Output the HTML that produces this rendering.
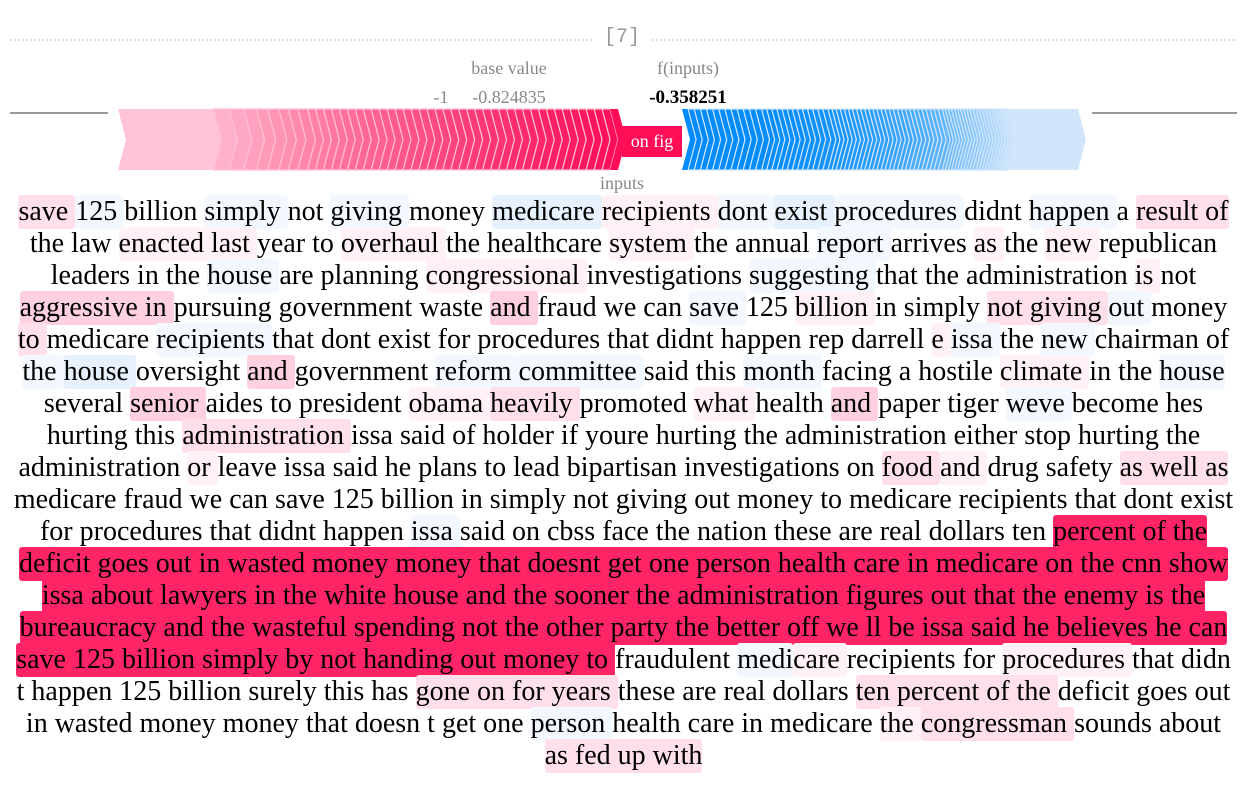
<!DOCTYPE html>
<html><head><meta charset="utf-8">
<style>
body{margin:0;width:1247px;height:810px;background:#fff;overflow:hidden;font-family:"Liberation Serif","Times New Roman","DejaVu Serif",serif;}
#top{position:absolute;left:0;top:0;width:1247px;height:200px;}
#top text{font-family:"Liberation Serif","Times New Roman","DejaVu Serif",serif;}
#txt{position:absolute;left:0;top:196px;width:1247px;text-align:center;font-size:25px;color:#000;}
.ln{height:32px;line-height:32px;white-space:nowrap;}
.ln span{border-radius:3px;padding:1px 0 2px 0;}
.a{background:#fff1f5}.b{background:#ffe0ea}.c{background:#ffd0de}.s{background:#ff2466}
.x{background:#f3f8fe}.y{background:#e6f1fd}
</style></head><body>
<svg id="top" width="1247" height="200">
 <line x1="10" y1="40" x2="592" y2="40" stroke="#bbb" stroke-dasharray="2,2"/>
 <line x1="652" y1="40" x2="1237" y2="40" stroke="#bbb" stroke-dasharray="2,2"/>
 <text x="622" y="42" font-size="20" fill="#999" text-anchor="middle" style="font-family:'Liberation Mono',monospace">[7]</text>
 <text x="509" y="74" font-size="18" fill="#888" text-anchor="middle">base value</text>
 <text x="688" y="74" font-size="18" fill="#888" text-anchor="middle">f(inputs)</text>
 <text x="441" y="103" font-size="18" fill="#888" text-anchor="middle">-1</text>
 <text x="509" y="103" font-size="18" fill="#888" text-anchor="middle">-0.824835</text>
 <text x="688" y="103" font-size="19" fill="#000" font-weight="bold" text-anchor="middle">-0.358251</text>
 <line x1="10" y1="113" x2="108" y2="113" stroke="#999" stroke-width="2"/>
 <line x1="1092" y1="113" x2="1237" y2="113" stroke="#999" stroke-width="2"/>
 <g id="red"></g>
 <g id="blue"></g>
 <rect x="622" y="126" width="60" height="31" fill="#ff0d57"/>
 <text x="652" y="147" font-size="18" fill="#fff" text-anchor="middle">on fig</text>
 <text x="622" y="189" font-size="18" fill="#888" text-anchor="middle">inputs</text>
</svg>
<script>
// positive contributions, left (smallest) to right (largest, nearest output)
const redVals=[60,10,9,8,7,7,6,6,6,5,5,5,5,5,5,5,5,5,5,5,5,5,5,5,5,5,5,5,5,5,5,5,5,5,5,5,5,5,5,5,5,5,5,5,5,5,5,5];
// negative contributions, from output (largest) outward to the right
const blueVals=[6,6,6,6,6,6,6,6,6,6,6,6,6,5,5,5,5,5,5,5,5,5,5,5,5,5,4,4,4,4,4,4,4,4,4,4,4,4,4,4,4,4,4,4,4,4,4,4,4,4,4,4,4,4,3,3,3,3,3,3,3,3,3,3,3,3,3,3,3,3,3,3,3,3,3,70];
const NS='http://www.w3.org/2000/svg';
function drawSide(g,vals,x0,x1,dir,c0,c1,gamma,stroke){
  const tot=vals.reduce((a,b)=>a+b,0);const W=x1-x0;let x=x0;
  const top=109,bot=170,mid=139.5,k=8*dir;
  vals.forEach((v,i)=>{
    const w=v/tot*W;const xa=x,xb=x+w;x=xb;
    const t=Math.pow(i/(vals.length-1),gamma);
    const col=c0.map((c,j)=>Math.round(c+(c1[j]-c)*t));
    const p=document.createElementNS(NS,'polygon');
    p.setAttribute('points',`${xa},${top} ${xb},${top} ${xb+k},${mid} ${xb},${bot} ${xa},${bot} ${xa+k},${mid}`);
    p.setAttribute('fill',`rgb(${col})`);
    p.setAttribute('stroke',stroke);p.setAttribute('stroke-width',(i==0||i==vals.length-1)?0:1.2);
    
    
    g.appendChild(p);
  });
}
drawSide(document.getElementById('red'),redVals,118,618,1,[255,196,214],[255,13,87],0.6,'#ffc0d2');
drawSide(document.getElementById('blue'),blueVals,682,1078,1,[0,139,251],[209,230,250],2.2,'#cfe6fb');
</script>
<div id="txt">
<div class="ln" id="l1"><span class="b">save </span><span class="x">125 </span>billion <span class="x">simply </span>not <span class="x">giving </span>money <span class="y">medicare </span><span class="a">recipients </span><span class="x">dont </span><span class="y">exist </span><span class="x">procedures </span>didnt <span class="x">happen </span>a <span class="b">result of</span></div>
<div class="ln">the law <span class="a">enacted </span><span class="a">last </span>year to <span class="a">overhaul </span>the healthcare <span class="a">system </span>the annual <span class="x">report </span>arrives <span class="a">as </span>the <span class="a">new </span>republican</div>
<div class="ln">leaders in the <span class="x">house </span>are planning <span class="a">congressional </span>investigations <span class="x">suggesting </span>that the administration <span class="a">is </span>not</div>
<div class="ln"><span class="c">aggressive in </span>pursuing government waste <span class="c">and </span>fraud we can <span class="x">save </span>125 <span class="a">billion </span>in simply <span class="b">not giving </span><span class="x">out </span>money</div>
<div class="ln"><span class="b">to </span>medicare <span class="x">recipients </span>that dont exist for procedures that didnt happen rep darrell <span class="a">e </span><span class="x">issa </span>the <span class="x">new </span>chairman of</div>
<div class="ln"><span class="x">the </span><span class="y">house </span>oversight <span class="c">and </span>government <span class="x">reform </span><span class="x">committee </span>said this <span class="x">month </span>facing a hostile <span class="a">climate </span>in the <span class="x">house</span></div>
<div class="ln">several <span class="c">senior </span>aides to president <span class="a">obama </span><span class="b">heavily </span>promoted <span class="a">what </span>health <span class="c">and </span>paper tiger <span class="x">weve </span>become hes</div>
<div class="ln">hurting this <span class="b">administration </span>issa said of holder if youre hurting the administration either stop hurting the</div>
<div class="ln">administration <span class="a">or </span>leave issa said he plans to lead bipartisan investigations on <span class="b">food </span><span class="a">and </span>drug safety <span class="b">as well as</span></div>
<div class="ln">medicare fraud we can save 125 billion in simply not giving out money to medicare recipients that dont exist</div>
<div class="ln">for procedures that didnt happen <span class="x">issa </span>said on cbss face the nation these are real dollars ten <span class="s">percent of the</span></div>
<div class="ln"><span class="s">deficit goes out in wasted money money that doesnt get one person health care in medicare on the cnn show</span></div>
<div class="ln"><span class="s">issa about lawyers in the white house and the sooner the administration figures out that the enemy is the</span></div>
<div class="ln"><span class="s">bureaucracy and the wasteful spending not the other party the better off we ll be issa said he believes he can</span></div>
<div class="ln"><span class="s">save 125 billion simply by not handing out money to </span>fraudulent <span class="x">medi</span><span class="a">care </span>recipients for <span class="a">procedures </span>that didn</div>
<div class="ln">t happen 125 billion surely this has <span class="b">gone on for years </span>these are real dollars <span class="b">ten percent of the </span>deficit goes out</div>
<div class="ln">in wasted money money that doesn t get one <span class="x">person </span>health care in medicare <span class="a">the </span><span class="b">congressman </span>sounds about</div>
<div class="ln"><span class="b">as fed up with</span></div>
</div>
<script>
// fit font size so first line spans ~1210px like the reference
(function(){
  const l1=document.getElementById('l1');
  const r=document.createRange();r.selectNodeContents(l1);
  const w=r.getBoundingClientRect().width;
  if(w>0){const fs=25*1210/w;document.getElementById('txt').style.fontSize=Math.min(32,Math.max(20,fs)).toFixed(2)+'px';}
})();
</script>
</body></html>
